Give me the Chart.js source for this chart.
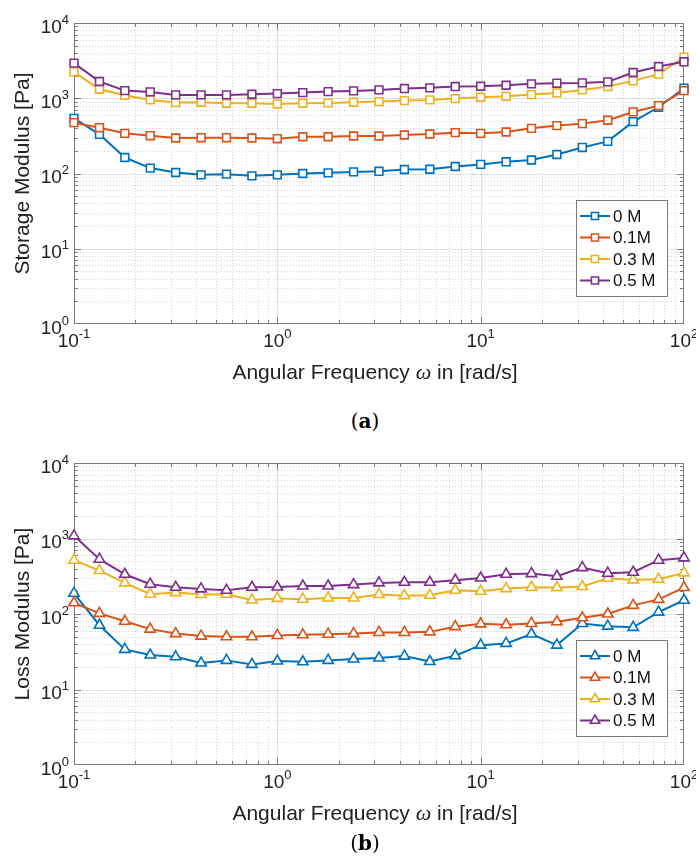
<!DOCTYPE html>
<html><head><meta charset="utf-8">
<script src="https://cdn.jsdelivr.net/npm/chart.js@4.4.1/dist/chart.umd.min.js"></script>
<style>
html,body{margin:0;padding:0;background:#fff;width:696px;height:858px;overflow:hidden;}
.wrap{position:absolute;left:0;width:696px;height:400px;}
#wa{top:0}
#wb{top:440px}
.cap{position:absolute;left:0;width:730px;text-align:center;font-family:"DejaVu Serif","Liberation Serif",serif;font-size:20px;line-height:24px;color:#000;z-index:5;}
#capa{top:409px}
#capb{top:831px}
</style></head>
<body>
<div class="wrap" id="wa"><canvas id="ca" width="696" height="400"></canvas></div>
<div class="wrap" id="wb"><canvas id="cb" width="696" height="400"></canvas></div>
<div class="cap" id="capa">(<b>a</b>)</div>
<div class="cap" id="capb">(<b>b</b>)</div>
<script>
// ---- data ----
const freq = [0.1, 0.1334, 0.1778, 0.2371, 0.3162, 0.4217, 0.5623, 0.7499, 1, 1.334, 1.778, 2.371, 3.162, 4.217, 5.623, 7.499, 10, 13.34, 17.78, 23.71, 31.62, 42.17, 56.23, 74.99, 100];
const seriesLabels = ['0 M', '0.1M', '0.3 M', '0.5 M'];
const storage0  = [541, 331, 163, 118, 103, 96, 98, 93, 96, 100, 102, 105, 107, 113, 114, 124, 132, 143, 151, 179, 222, 267, 489, 759, 1360];
const storage01 = [474, 406, 342, 318, 296, 299, 299, 296, 290, 308, 308, 315, 315, 325, 335, 349, 342, 356, 398, 433, 460, 510, 658, 798, 1265];
const storage03 = [2244, 1318, 1096, 950, 875, 885, 858, 858, 840, 858, 867, 885, 903, 931, 950, 990, 1031, 1063, 1119, 1178, 1291, 1431, 1702, 2089, 3522];
const storage05 = [2930, 1670, 1265, 1215, 1108, 1108, 1108, 1131, 1154, 1190, 1227, 1253, 1291, 1345, 1374, 1431, 1445, 1490, 1553, 1585, 1600, 1651, 2197, 2641, 3050];
const loss0  = [188, 71, 34, 28.6, 27.1, 22.4, 24.3, 21.5, 23.8, 23.3, 24.3, 25.3, 26.1, 27.7, 23.5, 28, 38.7, 40.8, 54.3, 38.7, 75, 69, 66.6, 106, 152];
const loss01 = [141, 102, 80, 63, 55, 51, 50, 50, 52, 53, 54, 55, 57, 57, 58, 68, 74, 72, 75, 79, 89, 100, 130, 156, 224];
const loss03 = [516, 376, 258, 183, 192, 181, 183, 153, 161, 157, 163, 163, 181, 175, 177, 206, 200, 217, 226, 224, 231, 297, 283, 288, 350];
const loss05 = [1085, 532, 336, 248, 226, 215, 206, 226, 228, 235, 235, 245, 258, 263, 263, 280, 300, 336, 343, 316, 412, 347, 357, 516, 553];
const xTickExps = [-1, 0, 1, 2];
const yTickExps = [0, 1, 2, 3, 4];
const colors = ['#0072BD', '#D95319', '#EDB120', '#7E2F8E'];

const SANS = '"Liberation Sans", Arial, Helvetica, sans-serif';
const AXIS_COL = '#7a7a7a';

function supLabel(ctx, exp, x, y, align) {
  const base = '10', e = String(exp);
  ctx.font = '19px ' + SANS; const wb = ctx.measureText(base).width;
  ctx.font = '13px ' + SANS; const we = ctx.measureText(e).width;
  const x0 = align === 'center' ? x - (wb + we) / 2 : x - (wb + we);
  ctx.textAlign = 'left'; ctx.textBaseline = 'alphabetic';
  ctx.font = '19px ' + SANS; ctx.fillText(base, x0, y);
  ctx.font = '13px ' + SANS; ctx.fillText(e, x0 + wb, y - 9);
}

const decor = {
  id: 'decor',
  beforeDatasetsDraw(chart) {
    const { ctx, chartArea: a, scales: { x, y } } = chart;
    ctx.save();
    ctx.lineWidth = 1;
    const xs = [], xsMaj = [], ys = [], ysMaj = [];
    for (let e = xTickExps[0]; e < xTickExps[xTickExps.length - 1]; e++) {
      const p = Math.pow(10, e);
      if (e > xTickExps[0]) xsMaj.push(p);
      for (let m = 2; m <= 9; m++) xs.push(m * p);
    }
    for (let e = yTickExps[0]; e < yTickExps[yTickExps.length - 1]; e++) {
      const p = Math.pow(10, e);
      if (e > yTickExps[0]) ysMaj.push(p);
      for (let m = 2; m <= 9; m++) ys.push(m * p);
    }
    // minor grid (dotted)
    ctx.strokeStyle = 'rgba(0,0,0,0.16)';
    ctx.setLineDash([1, 2]);
    ctx.beginPath();
    xs.forEach(v => { const px = Math.round(x.getPixelForValue(v)) + 0.5; ctx.moveTo(px, a.top); ctx.lineTo(px, a.bottom); });
    ys.forEach(v => { const py = Math.round(y.getPixelForValue(v)) + 0.5; ctx.moveTo(a.left, py); ctx.lineTo(a.right, py); });
    ctx.stroke();
    // major grid
    ctx.setLineDash([]);
    ctx.strokeStyle = 'rgba(0,0,0,0.12)';
    ctx.beginPath();
    xsMaj.forEach(v => { const px = Math.round(x.getPixelForValue(v)) + 0.5; ctx.moveTo(px, a.top); ctx.lineTo(px, a.bottom); });
    ysMaj.forEach(v => { const py = Math.round(y.getPixelForValue(v)) + 0.5; ctx.moveTo(a.left, py); ctx.lineTo(a.right, py); });
    ctx.stroke();
    // box + ticks
    ctx.strokeStyle = AXIS_COL;
    ctx.strokeRect(a.left + 0.5, a.top + 0.5, a.right - a.left - 1, a.bottom - a.top - 1);
    ctx.beginPath();
    const tick = (vals, len) => {
      vals.forEach(v => {
        const px = Math.round(x.getPixelForValue(v)) + 0.5;
        ctx.moveTo(px, a.bottom); ctx.lineTo(px, a.bottom - len);
        ctx.moveTo(px, a.top); ctx.lineTo(px, a.top + len);
      });
    };
    const ticky = (vals, len) => {
      vals.forEach(v => {
        const py = Math.round(y.getPixelForValue(v)) + 0.5;
        ctx.moveTo(a.left, py); ctx.lineTo(a.left + len, py);
        ctx.moveTo(a.right, py); ctx.lineTo(a.right - len, py);
      });
    };
    tick(xs, 4); tick(xsMaj, 7); ticky(ys, 4); ticky(ysMaj, 7);
    ctx.stroke();
    ctx.restore();
  },
  afterDatasetsDraw(chart, args, opts) {
    const { ctx } = chart;
    const L = { left: 576, top: 200, w: 92, h: 97 };
    ctx.save();
    ctx.fillStyle = '#fff';
    ctx.fillRect(L.left, L.top, L.w, L.h);
    ctx.strokeStyle = AXIS_COL; ctx.lineWidth = 1;
    ctx.strokeRect(L.left + 0.5, L.top + 0.5, L.w - 1, L.h - 1);
    chart.data.datasets.forEach((ds, i) => {
      const cy = L.top + 16 + 21.5 * i;
      ctx.strokeStyle = ds.borderColor; ctx.lineWidth = 2;
      ctx.beginPath(); ctx.moveTo(L.left + 4, cy); ctx.lineTo(L.left + 34, cy); ctx.stroke();
      ctx.fillStyle = '#fff'; ctx.strokeStyle = ds.borderColor; ctx.lineWidth = 1.6;
      Chart.helpers.drawPoint(ctx, { pointStyle: ds.pointStyle, radius: ds.pointRadius - 0.5, borderWidth: 1.6, rotation: 0 }, L.left + 19, cy);
      ctx.fillStyle = '#111'; ctx.font = '17px ' + SANS;
      ctx.textAlign = 'left'; ctx.textBaseline = 'middle';
      ctx.fillText(ds.label, L.left + 37, cy + 1);
    });
    ctx.restore();
  },
  afterDraw(chart, args, opts) {
    const { ctx, chartArea: a, scales: { x, y } } = chart;
    ctx.save();
    ctx.fillStyle = '#222';
    xTickExps.forEach(e => supLabel(ctx, e, x.getPixelForValue(Math.pow(10, e)), a.bottom + 23, 'center'));
    yTickExps.forEach(e => supLabel(ctx, e, a.left - 5, y.getPixelForValue(Math.pow(10, e)) + 9.5, 'right'));
    // x title
    const p1 = 'Angular Frequency ', p2 = '\u03C9', p3 = ' in [rad/s]';
    const fs = '21px ' + SANS, fi = 'italic 22px "Liberation Serif", "DejaVu Serif", serif';
    ctx.font = fs; const w1 = ctx.measureText(p1).width, w3 = ctx.measureText(p3).width;
    ctx.font = fi; const w2 = ctx.measureText(p2).width;
    let x0 = (a.left + a.right) / 2 - (w1 + w2 + w3) / 2 - 4;
    const by = a.bottom + 55;
    ctx.textAlign = 'left'; ctx.textBaseline = 'alphabetic';
    ctx.font = fs; ctx.fillText(p1, x0, by);
    ctx.font = fi; ctx.fillText(p2, x0 + w1, by);
    ctx.font = fs; ctx.fillText(p3, x0 + w1 + w2, by);
    // y title
    ctx.translate(29, (a.top + a.bottom) / 2);
    ctx.rotate(-Math.PI / 2);
    ctx.textAlign = 'center';
    ctx.font = fs;
    ctx.fillText(opts.yTitle, 0, 0);
    ctx.restore();
  }
};

function makeChart(id, series, yTitle, style, radius, padBottom) {
  const datasets = series.map((vals, i) => ({
    label: seriesLabels[i],
    data: freq.map((f, k) => ({ x: f, y: vals[k] })),
    borderColor: colors[i],
    backgroundColor: '#ffffff',
    borderWidth: 2,
    pointStyle: style,
    pointRadius: radius,
    pointBorderWidth: 1.6,
    pointBackgroundColor: '#ffffff',
    pointBorderColor: colors[i],
    tension: 0,
    clip: false,
    order: series.length - i
  }));
  return new Chart(document.getElementById(id), {
    type: 'line',
    data: { datasets },
    options: {
      responsive: false,
      animation: false,
      devicePixelRatio: 1,
      layout: { padding: { left: 74, right: 12, top: 23, bottom: padBottom } },
      plugins: { legend: { display: false }, tooltip: { enabled: false }, decor: { yTitle } },
      scales: {
        x: { type: 'logarithmic', min: 0.1, max: 100, display: false },
        y: { type: 'logarithmic', min: 1, max: 10000, display: false }
      }
    },
    plugins: [decor]
  });
}

makeChart('ca', [storage0, storage01, storage03, storage05], 'Storage Modulus [Pa]', 'rect', 5.5, 76);
makeChart('cb', [loss0, loss01, loss03, loss05], 'Loss Modulus [Pa]', 'triangle', 6, 75);
</script>
</body></html>
